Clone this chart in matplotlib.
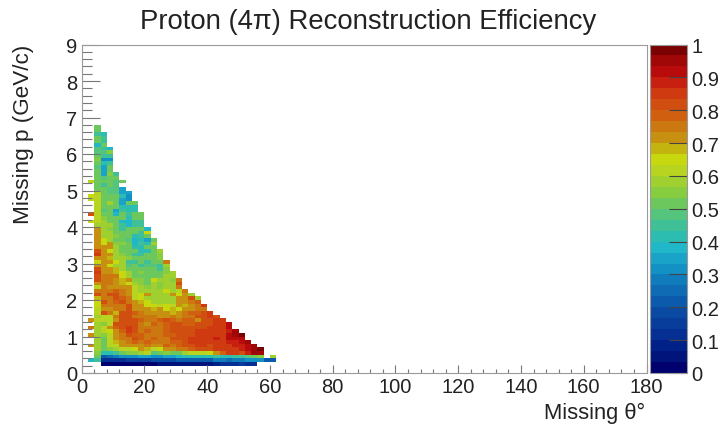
import matplotlib

matplotlib.use("Agg")
import matplotlib.pyplot as plt
import numpy as np
from matplotlib.colors import BoundaryNorm, ListedColormap

W, H = 725, 427

# palette, bottom to top (30 levels)
palette = [
    "#00006e", "#00147c", "#002288", "#062f94", "#083d9c", "#0a4aa2",
    "#0c5aac", "#0e6bb4", "#117cbc", "#1390c4", "#1aa3c8", "#20b8c8",
    "#2dbcb0", "#40c096", "#55c47c", "#6cc85c", "#88cc40", "#a0d030",
    "#b8d420", "#c8d80f", "#c4b410", "#c89010", "#cc7810", "#d06010",
    "#d04e10", "#d03a10", "#c82010", "#b80c0c", "#a00808", "#7a0202",
]

# efficiency per 0.1 GeV/c momentum row; each list starts at the 2-4 deg bin
N = None
r02 = [N, N, .02, .02, .02, .02, .03, .03, .03, .03, .03, .04, .04, .04, .05, .05, .05, .05, .06, .06, .08, .1, .1, .12, .15, .12, .1]
r03 = [.38, .45, .1, .12, .13, .13, .15, .16, .16, .15, .17, .17, .18, .18, .2, .2, .2, .2, .2, .2, .28, .27, .24, .28, .28, .32, .3, .3, .22, .22]
r04 = [N, .5, .22, .25, .27, .3, .3, .32, .34, .36, .3, .33, .35, .35, .38, .4, .4, .42, .42, .42, .45, .42, .42, .45, .45, .48, .5, .55, N, .58]
r05 = [N, .55, .42, .42, .45, .5, .55, .55, .58, .6, .48, .5, .55, .5, .52, .58, .6, .62, .63, .66, .72, .78, .84, .84, .8, .88, .96, .94]
r06 = [N, .58, .5, .55, .58, .62, .62, .66, .7, .68, .6, .64, .7, .72, .74, .76, .78, .8, .8, .82, .86, .84, .86, .84, .88, .92, .95, .98]
r07 = [.72, .58, .5, .6, .62, .7, .72, .72, .7, .76, .72, .72, .78, .76, .78, .8, .8, .84, .84, .82, .84, .84, .86, .88, .87, .9, .95]
r08 = [N, .58, .5, .62, .68, .72, .74, .78, .76, .78, .74, .74, .76, .78, .78, .8, .84, .86, .86, .84, .84, .86, .88, .88, .9, .95]
r09 = [N, .58, .5, .62, .7, .74, .76, .82, .78, .74, .78, .76, .76, .8, .8, .8, .84, .86, .84, .86, .88, .86, .9, .9, .93]
r10 = [.72, .58, .55, .62, .7, .75, .82, .78, .78, .76, .76, .76, .78, .78, .8, .8, .82, .84, .84, .84, .86, .86, .9, .96, .97]
r11 = [N, .58, .6, .65, .72, .78, .84, .8, .74, .78, .74, .76, .78, .8, .8, .8, .82, .85, .86, .86, .84, .86, .88, .94]
r12 = [.74, .58, .6, .7, .78, .8, .84, .8, .76, .74, .76, .76, .78, .8, .82, .8, .82, .8, .82, .85, .84, .85, .9]
r13 = [N, .58, .55, .62, .8, .82, .82, .8, .76, .72, .78, .76, .78, .8, .8, .78, .78, .8, .8, .82, .85, .86, .92]
r14 = [.72, .6, .6, .62, .72, .8, .82, .8, .78, .76, .76, .78, .8, .78, .76, .78, .78, .72, .8, .8, .84, .86]
r15 = [N, .58, .6, .62, .74, .82, .8, .76, .76, .74, .74, .72, .7, .76, .72, .74, .76, .8, .82, .84, .8]
r16 = [N, .6, .82, .74, .68, .8, .8, .78, .74, .72, .72, .7, .7, .68, .72, .74, .78, .78, .8, .84]
r17 = [N, .62, .72, .7, .76, .76, .8, .72, .7, .7, .68, .7, .66, .68, .66, .7, .72, .76, .74]
r18 = [N, .66, .76, .74, .76, .76, .82, .72, .7, .66, .66, .62, .66, .62, .7, .68, .72, .76, .84]
r19 = [N, .66, .8, .76, .78, .8, .74, .72, .68, .66, .58, .58, .57, .58, .7, .7, .74, .78]
r20 = [N, .68, .76, .76, .82, .78, .74, .6, .66, .58, .57, .57, .58, .57, .7, .7, .8, .58]
r21 = [N, .82, .74, .8, .82, .76, .72, .6, .66, .7, .57, .57, .58, .7, .66, .7, .57]
r22 = [N, .76, .76, .74, .78, .74, .7, .6, .57, .57, .57, .58, .66, .57, .6, .76]
r23 = [N, .6, .74, .72, .72, .72, .7, .6, .57, .55, .58, .55, .58, .58, .74]
r24 = [N, .7, .76, .74, .72, .68, .66, .57, .55, .5, .58, .55, .57, .57, .82]
r25 = [N, .82, .76, .76, .72, .68, .7, .55, .55, .52, .66, .57, .57, .55, .74]
r26 = [N, .82, .74, .74, .74, .66, .58, .52, .52, .5, .52, .5, .57, .57]
r27 = [N, .84, .72, .72, .68, .66, .57, .52, .55, .52, .52, .52, .55, .57]
r28 = [N, .8, .72, .7, .68, .58, .5, .5, .5, .5, .5, .45, .55]
r29 = [N, .72, .7, .66, .58, .57, .48, .5, .45, .48, .48, .45, .57]
r30 = [N, .66, .72, .7, .66, .57, .45, .45, .5, .45, .5, .5, .74]
r31 = [N, .72, .7, .68, .58, .57, .55, .5, .5, .5, .52, .55]
r32 = [N, .84, .72, .7, .58, .55, .52, .45, .45, .5, .52, .55]
r33 = [N, .82, .7, .66, .57, .5, .5, .5, .42, .42, .5, .57]
r34 = [N, .72, .72, .7, .57, .52, .5, .42, .42, .5, .52]
r35 = [N, .72, .66, .7, .55, .55, .5, .38, .45, .42, .57]
r36 = [N, .72, .64, .58, .52, .5, .48, .38, .42, .36, .52]
r37 = [N, .7, .58, .58, .55, .52, .5, .42, .45, .5]
r38 = [N, .7, .58, .58, .52, .5, .5, .5, .45, .66]
r39 = [N, .7, .57, .55, .52, .45, .5, .5, .5, .38]
r40 = [N, .58, .57, .57, .5, .45, .38, .45, .45]
r41 = [.66, .6, .57, .5, .5, .38, .38, .45, .45]
r42 = [N, .6, .55, .52, .5, .5, .42, .5, .5]
r43 = [.82, .6, .52, .5, .38, .5, .45, .5, .5]
r44 = [N, .6, .48, .5, .36, .45, .42, .42]
r45 = [N, .6, .52, .5, .52, .4, .42, .42]
r46 = [N, .6, .52, .58, .5, .35, .52, .52]
r47 = [.6, .6, .52, .5, .5, .35, .33]
r48 = [.66, .6, .52, .5, .5, .4, .33]
r49 = [N, .6, .5, .48, .48, .35, .35]
r50 = [N, .5, .5, .48, .48, .35]
r51 = [N, .5, .45, .5, .47]
r52 = [.6, .5, .5, .52, .48, .5]
r53 = [N, .52, .48, .52, .5]
r54 = [N, .52, .35, .55, .45]
r55 = [N, .52, .36, .52]
r56 = [N, .48, .36, .5]
r57 = [N, .52, .42, .45]
r58 = [N, .55, .3, .33]
r59 = [N, .52, .45, .45]
r60 = [N, .47, .48, .55]
r61 = [N, .48, .45, .38]
r62 = [N, .38, .5]
r63 = [N, .5, .45]
r64 = [N, .5, .45]
r65 = [N, .45, .42]
r66 = [N, .5]
r67 = [N, .5]

rows = [
    r02, r03, r04, r05, r06, r07, r08, r09, r10, r11, r12, r13, r14, r15, r16, r17, r18,
    r19, r20, r21, r22, r23, r24, r25, r26, r27, r28, r29, r30, r31, r32, r33, r34, r35,
    r36, r37, r38, r39, r40, r41, r42, r43, r44, r45, r46, r47, r48, r49, r50, r51, r52,
    r53, r54, r55, r56, r57, r58, r59, r60, r61, r62, r63, r64, r65, r66, r67,
]
theta_ticks = list(range(0, 181, 20))
p_ticks = list(range(0, 10))
z_ticks = [0, 0.1, 0.2, 0.3, 0.4, 0.5, 0.6, 0.7, 0.8, 0.9, 1]
z_tick_labels = ["0", "0.1", "0.2", "0.3", "0.4", "0.5", "0.6", "0.7", "0.8", "0.9", "1"]

FRAME = "#9a9a9a"
TICK = "#777777"
TEXT = "#222222"

plt.rcParams["font.family"] = ["Liberation Sans", "DejaVu Sans"]


def px_axes(fig, left, top, right, bottom):
    """Axes placed by pixel edges, y measured from the top of the image."""
    return fig.add_axes([left / W, 1 - bottom / H, (right - left) / W, (bottom - top) / H])


fig = plt.figure(figsize=(W / 100, H / 100), dpi=100)
ax = px_axes(fig, 81.7, 45.5, 646.5, 374)
cax = px_axes(fig, 650, 45.5, 687, 374)

# 90 x 90 histogram, only the filled part is given in rows
grid = np.full((90, 90), np.nan)
for i, row in enumerate(rows):
    vals = np.array(row, dtype=float)
    grid[i + 2, 1:1 + len(vals)] = vals
x_edges = np.arange(0, 182, 2)
y_edges = np.arange(0, 9.05, 0.1)

cmap = ListedColormap(palette)
norm = BoundaryNorm(np.linspace(0, 1, len(palette) + 1), cmap.N)
mesh = ax.pcolormesh(x_edges, y_edges, np.ma.masked_invalid(grid), cmap=cmap, norm=norm, linewidth=0)

ax.set_xlim(0, 180)
ax.set_ylim(0, 9)
ax.set_xticks(theta_ticks)
ax.set_yticks(p_ticks)
ax.set_xticks(np.arange(0, 181, 4), minor=True)
ax.set_yticks(np.arange(0, 9.01, 0.2), minor=True)
ax.tick_params(axis="x", which="major", direction="in", length=6, width=0.8, color=TICK,
               labelsize=14.5, labelcolor=TEXT, pad=3)
ax.tick_params(axis="x", which="minor", direction="in", length=3, width=0.8, color=TICK)
ax.tick_params(axis="y", which="major", direction="in", length=13, width=0.8, color=TICK,
               labelsize=14.5, labelcolor=TEXT, pad=3)
ax.tick_params(axis="y", which="minor", direction="in", length=7, width=0.8, color=TICK)
for spine in ax.spines.values():
    spine.set_color(FRAME)
    spine.set_linewidth(0.8)

cb = fig.colorbar(mesh, cax=cax, ticks=z_ticks, spacing="uniform", drawedges=False)
cb.ax.set_yticklabels(z_tick_labels)
cb.ax.minorticks_off()
cb.ax.tick_params(direction="in", length=13, width=0.8, color="#444444", labelsize=14.5,
                  labelcolor=TEXT, pad=3)
cb.outline.set_edgecolor(FRAME)
cb.outline.set_linewidth(0.8)

fig.text(368.5 / W, 1 - 22 / H, "Proton (4π) Reconstruction Efficiency", ha="center", va="center",
         fontsize=19.8, color=TEXT)
fig.text(645 / W, 1 - 413 / H, "Missing θ°", ha="right", va="center", fontsize=15.8, color=TEXT)
fig.text(24 / W, 1 - 45 / H, "Missing p (GeV/c)", ha="center", va="top", rotation=90,
         fontsize=16.2, color=TEXT)

fig.savefig("out.png", dpi=100)
plt.close(fig)
